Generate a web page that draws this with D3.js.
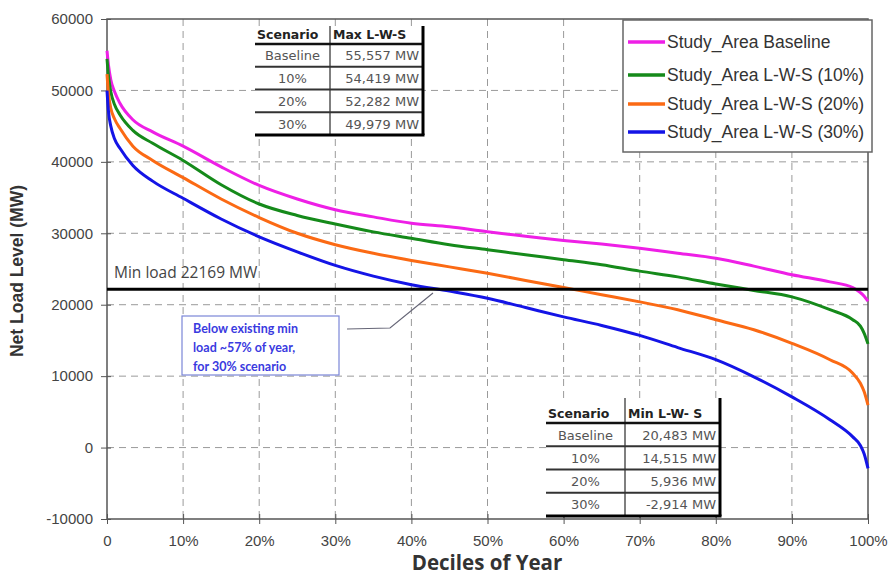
<!DOCTYPE html>
<html><head><meta charset="utf-8">
<script src="https://cdn.jsdelivr.net/npm/d3@7"></script>
<style>
body{margin:0;background:#fff;}
svg{display:block;}
</style></head>
<body>
<svg id="chart" width="896" height="575"></svg>
<script>
// ---- data ----
const pct = [0, 0.2, 0.5, 1, 1.7, 3.4, 6, 10, 15, 20, 25, 30, 35, 40, 45, 50, 55, 60, 65, 70, 75, 80, 85, 90, 95, 98, 99, 99.5, 100];
const baseline = [55557, 53500, 51500, 49800, 48200, 45900, 44200, 42200, 39300, 36700, 34800, 33300, 32300, 31400, 30900, 30200, 29600, 29000, 28500, 27900, 27200, 26500, 25400, 24200, 23200, 22400, 21700, 21200, 20483];
const lws10 = [54419, 52000, 49800, 48000, 46600, 44400, 42600, 40200, 36800, 34100, 32500, 31300, 30200, 29300, 28400, 27700, 27000, 26300, 25600, 24700, 23900, 22900, 22000, 21100, 19300, 17900, 17000, 16000, 14515];
const lws20 = [52282, 49500, 47500, 46000, 44700, 42200, 40200, 37800, 34800, 32200, 30000, 28400, 27200, 26200, 25300, 24400, 23400, 22400, 21400, 20400, 19300, 17900, 16500, 14600, 12300, 10400, 9000, 7800, 5936];
const lws30 = [49979, 47000, 45000, 43200, 41900, 39500, 37300, 34900, 32000, 29500, 27400, 25500, 24000, 22800, 21900, 20900, 19600, 18300, 17100, 15700, 14000, 12300, 9900, 7100, 3900, 1500, 300, -900, -2914];
const seriesNames = ["Study_Area Baseline", "Study_Area L-W-S (10%)", "Study_Area L-W-S (20%)", "Study_Area L-W-S (30%)"];
const scenarios = ["Baseline", "10%", "20%", "30%"];
const seriesColors = ["#ee1fe6", "#158a1a", "#fb6a14", "#1414e6"];
const yTicks = [-10000, 0, 10000, 20000, 30000, 40000, 50000, 60000];
const xTicks = [0, 10, 20, 30, 40, 50, 60, 70, 80, 90, 100];
const minLoad = 22169;
const calloutLines = ["Below existing min", "load ~57% of year,", "for 30% scenario"];

const allSeries = [baseline, lws10, lws20, lws30];

// ---- layout ----
const svg = d3.select("#chart");
const L = 107, R = 868, T = 19, B = 519;
const x = d3.scaleLinear().domain([0, 100]).range([L, R]);
const y = d3.scaleLinear().domain([-10000, 60000]).range([B, T]);
const tickFont = "'Liberation Sans', Arial, sans-serif";
const loc = d3.formatLocale({decimal: ".", thousands: ",", grouping: [3], currency: ["", ""], minus: "-"});

// grid
const grid = svg.append("g");
grid.selectAll("line.h").data(yTicks.filter(d => d > -10000 && d < 60000)).join("line")
  .attr("x1", L).attr("x2", R).attr("y1", d => y(d)).attr("y2", d => y(d))
  .attr("stroke", "#9a9a9a").attr("stroke-width", 1).attr("stroke-dasharray", "7,5");
grid.selectAll("line.v").data(xTicks.filter(d => d > 0 && d < 100)).join("line")
  .attr("y1", T).attr("y2", B).attr("x1", d => x(d)).attr("x2", d => x(d))
  .attr("stroke", "#9a9a9a").attr("stroke-width", 1).attr("stroke-dasharray", "7,5");

// frame
svg.append("rect").attr("x", L).attr("y", T).attr("width", R - L).attr("height", B - T)
  .attr("fill", "none").attr("stroke", "#555").attr("stroke-width", 1.5);

// axes
const yAxis = d3.axisLeft(y).tickValues(yTicks).tickSize(6).tickPadding(8).tickFormat(loc.format("d"));
const gy = svg.append("g").attr("transform", `translate(${L},0)`).call(yAxis);
gy.select(".domain").remove();
gy.selectAll(".tick line").attr("stroke", "#555").attr("x2", -6).attr("x1", 4);
gy.selectAll(".tick text").attr("font-family", tickFont).attr("font-size", 15).attr("fill", "#444");

const xAxis = d3.axisBottom(x).tickValues(xTicks).tickSize(6).tickPadding(10)
  .tickFormat(d => d === 0 ? "0" : d + "%");
const gx = svg.append("g").attr("transform", `translate(0,${B})`).call(xAxis);
gx.select(".domain").remove();
gx.selectAll(".tick line").attr("stroke", "#555").attr("y1", -5).attr("y2", 5);
gx.selectAll(".tick text").attr("font-family", tickFont).attr("font-size", 15).attr("fill", "#444");

// axis titles
svg.append("text").attr("x", 487).attr("y", 570).attr("text-anchor", "middle")
  .attr("font-family", "'Open Sans', sans-serif").attr("font-weight", "bold").attr("font-size", 20.5)
  .attr("fill", "#333").text("Deciles of Year");
svg.append("text").attr("transform", "translate(23,271) rotate(-90)").attr("text-anchor", "middle")
  .attr("font-family", tickFont).attr("font-weight", "bold").attr("font-size", 17.5)
  .attr("fill", "#333").text("Net Load Level (MW)");

// curves
const line = d3.line().x((d, i) => x(pct[i])).y(d => y(d)).curve(d3.curveMonotoneX);
svg.append("g").selectAll("path").data(allSeries).join("path")
  .attr("d", d => line(d)).attr("fill", "none")
  .attr("stroke", (d, i) => seriesColors[i]).attr("stroke-width", 3).attr("stroke-linejoin", "round");

// min load line
svg.append("line").attr("x1", L).attr("x2", R).attr("y1", y(minLoad)).attr("y2", y(minLoad))
  .attr("stroke", "#000").attr("stroke-width", 3);
svg.append("text").attr("x", 114).attr("y", 278)
  .attr("font-family", "'Open Sans', sans-serif").attr("font-size", 15.5).attr("fill", "#444")
  .text("Min load " + minLoad + " MW");

// callout
const cb = svg.append("g");
cb.append("rect").attr("x", 182).attr("y", 316).attr("width", 157).attr("height", 59)
  .attr("fill", "#fff").attr("stroke", "#7b86d8").attr("stroke-width", 1.2);
cb.selectAll("text").data(calloutLines).join("text")
  .attr("x", 193).attr("y", (d, i) => 333 + i * 19)
  .attr("font-family", "Lato, sans-serif").attr("font-weight", "bold").attr("font-size", 12.5)
  .attr("fill", "#3a3ae0").text(d => d);
cb.append("polyline").attr("points", "347,329 390,328 433,293")
  .attr("fill", "none").attr("stroke", "#667").attr("stroke-width", 1.2);

// legend
const lg = svg.append("g");
lg.append("rect").attr("x", 623).attr("y", 20).attr("width", 249).attr("height", 132)
  .attr("fill", "#fff").attr("stroke", "#666").attr("stroke-width", 1.5);
const legY = [42, 75, 104, 132];
seriesNames.forEach((n, i) => {
  lg.append("line").attr("x1", 628).attr("x2", 665).attr("y1", legY[i]).attr("y2", legY[i])
    .attr("stroke", seriesColors[i]).attr("stroke-width", 3.5);
  lg.append("text").attr("x", 667).attr("y", legY[i] + 6)
    .attr("font-family", tickFont).attr("font-size", 17.5).attr("fill", "#333").text(n);
});

// tables
const fmt = loc.format(",");
const tabFont = "'DejaVu Sans', sans-serif";
function drawTable(x0, xDiv, x1, top, headBot, rowH, headers, col2, headX) {
  const g = svg.append("g");
  const bottom = headBot + rowH * 4;
  g.append("rect").attr("x", x0).attr("y", top).attr("width", x1 - x0).attr("height", bottom - top).attr("fill", "#fff");
  g.append("line").attr("x1", xDiv).attr("x2", xDiv).attr("y1", top).attr("y2", bottom).attr("stroke", "#555").attr("stroke-width", 1.5);
  g.append("line").attr("x1", x0).attr("x2", x1).attr("y1", headBot).attr("y2", headBot).attr("stroke", "#111").attr("stroke-width", 2.5);
  for (let r = 1; r < 4; r++) {
    g.append("line").attr("x1", x0).attr("x2", x1).attr("y1", headBot + r * rowH).attr("y2", headBot + r * rowH)
      .attr("stroke", "#333").attr("stroke-width", 1.8);
  }
  g.append("line").attr("x1", x0).attr("x2", x1 + 1.5).attr("y1", bottom).attr("y2", bottom).attr("stroke", "#000").attr("stroke-width", 3);
  g.append("line").attr("x1", x1).attr("x2", x1).attr("y1", top).attr("y2", bottom).attr("stroke", "#000").attr("stroke-width", 3);
  g.append("text").attr("x", headX[0]).attr("y", headBot - 5).attr("font-family", tabFont).attr("font-size", 12.5).attr("font-weight", "bold").attr("fill", "#222").text(headers[0]);
  g.append("text").attr("x", headX[1]).attr("y", headBot - 5).attr("font-family", tabFont).attr("font-size", 12.5).attr("font-weight", "bold").attr("fill", "#222").text(headers[1]);
  scenarios.forEach((s, i) => {
    const by = headBot + rowH * i + rowH / 2 + 5;
    g.append("text").attr("x", (x0 + xDiv) / 2).attr("y", by).attr("text-anchor", "middle")
      .attr("font-family", tabFont).attr("font-size", 13).attr("fill", "#555").text(s);
    g.append("text").attr("x", x1 - 4).attr("y", by).attr("text-anchor", "end")
      .attr("font-family", tabFont).attr("font-size", 13).attr("fill", "#555").text(col2[i]);
  });
}
drawTable(255, 330, 423, 26, 44, 22.75, ["Scenario", "Max L-W-S"],
  allSeries.map(s => fmt(d3.max(s)) + " MW"), [257, 333]);
drawTable(546, 625, 720, 398, 423, 23.25, ["Scenario", "Min L-W- S"],
  allSeries.map(s => fmt(d3.min(s)) + " MW"), [548, 628]);
</script>
</body></html>
